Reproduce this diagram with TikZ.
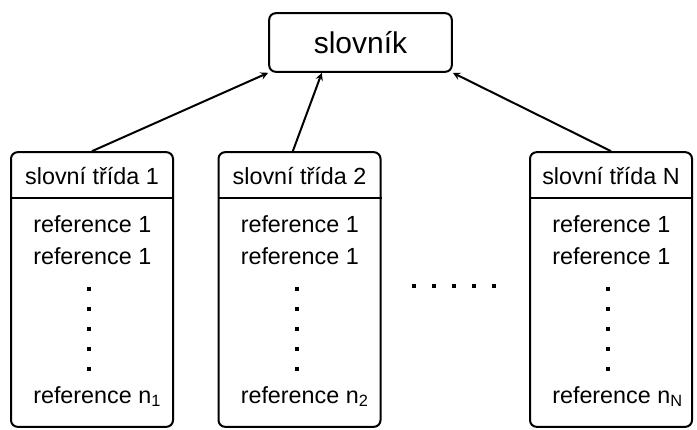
\documentclass[tikz,border=0pt]{standalone}
\usepackage{fontspec}
\setmainfont{Liberation Sans}

\begin{document}
\begin{tikzpicture}[x=0.75pt,y=-0.75pt,
	trida/.style={draw,line width=1.5pt,rounded corners=5pt,minimum width=121.5pt,minimum height=206pt,inner sep=0pt},
	hlava/.style={draw,line width=1.5pt,rounded corners=5pt,minimum width=137pt,minimum height=44pt,font=\fontsize{22.5}{26}\selectfont},
	slovo/.style={anchor=base,inner sep=0pt,font=\fontsize{17.5}{20}\selectfont}]
	\useasboundingbox (0,0) rectangle (697,429);

	\node[hlava] (slovnik) at (360.5,42.5) {slovník};

	% slovni tridy
	\foreach \n/\x in {1/92,2/299.5,N/611} {
		\node[trida] (t\n) at (\x,289.5) {};
		\draw[line width=1.5pt] ([yshift=-35.25pt]t\n.north west) -- ([yshift=-35.25pt]t\n.north east);
		\node[slovo] (h\n) at (\x,184) {slovní třída \n};
		\node[slovo,anchor=base west] (r\n a) at (\x-59,232) {reference 1};
		\node[slovo,anchor=base west] (r\n b) at (\x-59,264) {reference 1};
		\node[slovo,anchor=base west] (r\n c) at (\x-59,403) {reference n\textsubscript{\n}};
		\foreach \y in {289,309,...,369}
			\fill (\x-5,\y-2) rectangle ++(4,4);
	}

	\foreach \x in {414,434,...,494}
		\fill (\x-2,284) rectangle ++(4,4);

	\path [-stealth,line width=1.5pt] (t1.north) edge (slovnik.south west);
	\path [-stealth,line width=1.5pt] ([xshift=-5pt]t2.north) edge ([xshift=-29pt]slovnik.south);
	\path [-stealth,line width=1.5pt] (tN.north) edge (slovnik.south east);
\end{tikzpicture}
\end{document}
